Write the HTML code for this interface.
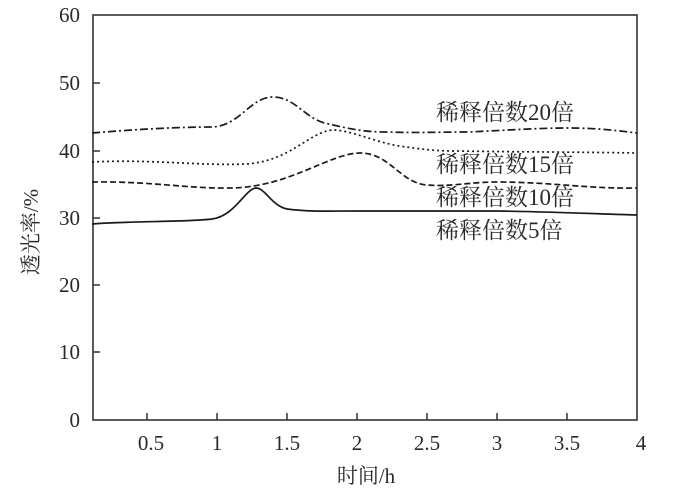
<!DOCTYPE html>
<html><head><meta charset="utf-8"><style>
html,body{margin:0;padding:0;background:#fff;}
svg{display:block;}
text{font-family:"Liberation Serif","Noto Serif CJK SC",serif;fill:#2a2a2a;}
</style></head><body>
<svg width="698" height="494" viewBox="0 0 698 494" xmlns="http://www.w3.org/2000/svg">
<rect x="93" y="15" width="544" height="405" fill="none" stroke="#333" stroke-width="1.6"/>
<g stroke="#333" stroke-width="1.5">
<line x1="93" y1="83" x2="100" y2="83"/><line x1="93" y1="151" x2="100" y2="151"/>
<line x1="93" y1="218" x2="100" y2="218"/><line x1="93" y1="285" x2="100" y2="285"/>
<line x1="93" y1="352" x2="100" y2="352"/>
<line x1="147" y1="420" x2="147" y2="413"/><line x1="217" y1="420" x2="217" y2="413"/>
<line x1="287" y1="420" x2="287" y2="413"/><line x1="357" y1="420" x2="357" y2="413"/>
<line x1="427" y1="420" x2="427" y2="413"/><line x1="497" y1="420" x2="497" y2="413"/>
<line x1="567" y1="420" x2="567" y2="413"/>
</g>
<g font-size="21" text-anchor="end">
<text x="80" y="22">60</text><text x="80" y="90">50</text><text x="80" y="158">40</text>
<text x="80" y="225">30</text><text x="80" y="292">20</text><text x="80" y="359">10</text>
<text x="80" y="427">0</text>
</g>
<g font-size="21" text-anchor="middle">
<text x="151" y="450">0.5</text><text x="217" y="450">1</text><text x="287" y="450">1.5</text>
<text x="357" y="450">2</text><text x="427" y="450">2.5</text><text x="497" y="450">3</text>
<text x="567" y="450">3.5</text><text x="641" y="450">4</text>
<text x="366" y="483">时间/h</text>
</g>
<text font-size="21" text-anchor="middle" transform="translate(38,232) rotate(-90)">透光率/%</text>
<g fill="none" stroke="#1a1a1a" stroke-width="1.7">
<path stroke-dasharray="8,3,2,3" d="M92,133 C140,129 180,127 212,127 C240,126 250,97 273,97 C296,97 305,120 329,124 C350,129 365,132 385,132 C420,133 440,132 469,132 C510,130 540,128 567,128 C600,128 620,131 637,133"/>
<path stroke-dasharray="2,3" d="M92,162 C150,159 200,166 245,164 C290,162 310,131 333,130 C350,130 375,142 399,146 C420,149 435,151 455,151 C520,152 580,152 637,153"/>
<path stroke-dasharray="6,3" d="M92,182 C150,181 190,189 231,188 C290,187 330,153 360,153 C390,153 400,183 427,185 C450,187 470,182 497,182 C550,182 590,189 637,188"/>
<path d="M92,224 C130,221 190,222 212,219 C235,216 245,189 256,188 C265,188 272,206 287,209 C310,212 330,211 357,211 L497,211 C560,212 600,214 637,215"/>
</g>
<g font-size="23">
<text x="436" y="120">稀释倍数20倍</text>
<text x="436" y="172">稀释倍数15倍</text>
<text x="436" y="205">稀释倍数10倍</text>
<text x="436" y="238">稀释倍数5倍</text>
</g>
</svg>
</body></html>
